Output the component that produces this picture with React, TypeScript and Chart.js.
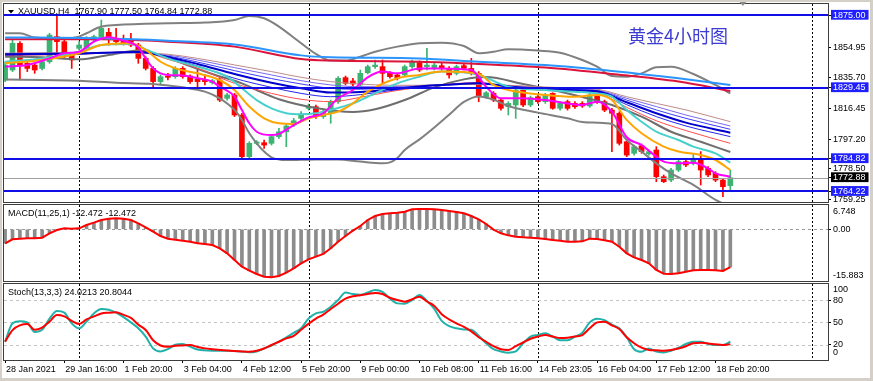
import React, { useEffect, useRef } from "react";
import { Chart, registerables } from "chart.js";

Chart.register(...registerables);

const FONT = "'Liberation Sans', 'DejaVu Sans', sans-serif";
const CJK_FONT = "'Noto Sans CJK SC', sans-serif";

// ---------------- data ----------------
const opens = [1834.3,1840.6,1857.4,1844.8,1843.7,1841.6,1845.8,1861.6,1858.4,1850.0,
1854.2,1854.2,1859.5,1861.2,1864.3,1860.5,1859.5,1859.5,1856.3,1847.9,
1841.6,1833.3,1836.8,1836.4,1841.6,1836.8,1834.9,1834.3,1832.6,1834.3,
1822.8,1824.9,1812.3,1786.1,1794.5,1794.9,1794.5,1798.7,1801.8,1806.0,
1810.2,1816.5,1817.5,1811.3,1813.4,1820.7,1835.8,1833.7,1831.2,1838.9,
1842.7,1842.7,1838.5,1837.5,1837.5,1842.7,1845.2,1842.7,1841.6,1843.3,
1841.6,1838.5,1843.3,1841.6,1838.5,1823.8,1825.9,1821.7,1817.5,1818.6,
1828.0,1818.6,1823.8,1820.7,1825.9,1816.5,1820.7,1819.6,1819.6,1818.0,
1824.9,1820.7,1815.4,1813.4,1795.5,1788.2,1793.0,1787.8,1790.3,1773.5,
1771.4,1777.7,1783.0,1781.9,1784.0,1778.8,1775.6,1771.4,1767.9];
const highs = [1845.8,1859.5,1858.4,1845.8,1844.8,1846.9,1863.7,1875.2,1859.5,1851.1,
1858.4,1861.6,1862.6,1872.0,1866.8,1866.8,1862.6,1863.7,1857.4,1849.0,
1842.7,1837.5,1838.5,1842.7,1842.7,1837.5,1841.6,1837.5,1834.7,1835.4,
1825.9,1825.9,1813.4,1795.5,1796.2,1796.6,1799.7,1803.9,1807.1,1810.2,
1814.4,1819.2,1818.6,1815.9,1821.7,1836.4,1836.8,1835.4,1840.6,1843.7,
1846.9,1846.9,1839.6,1838.5,1843.7,1846.9,1846.3,1854.2,1844.8,1844.8,
1842.7,1843.7,1844.4,1847.9,1839.6,1827.0,1827.0,1822.8,1820.7,1829.1,
1829.1,1824.2,1824.9,1825.9,1826.3,1820.7,1821.7,1820.7,1820.7,1825.9,
1825.9,1821.7,1816.5,1814.4,1796.6,1793.4,1794.1,1790.3,1792.4,1774.6,
1778.8,1784.0,1784.0,1788.2,1789.3,1779.8,1776.7,1772.5,1777.5];
const lows = [1833.3,1839.6,1834.3,1839.6,1838.5,1840.6,1844.8,1851.1,1847.9,1841.6,
1853.2,1853.2,1858.4,1860.5,1856.3,1856.3,1856.3,1855.3,1844.8,1840.6,
1830.1,1831.2,1834.3,1835.4,1835.4,1832.2,1830.1,1831.2,1831.8,1820.7,
1821.7,1811.3,1785.1,1785.1,1793.7,1791.3,1793.4,1797.6,1792.4,1805.0,
1808.7,1815.4,1810.2,1810.2,1807.1,1819.6,1831.2,1830.5,1830.1,1838.1,
1841.6,1832.2,1835.4,1834.3,1836.4,1841.6,1839.6,1840.6,1840.6,1840.6,
1835.4,1837.5,1840.6,1837.5,1820.7,1822.8,1820.7,1815.4,1812.3,1810.2,
1817.5,1817.5,1819.6,1819.6,1815.9,1815.4,1815.4,1816.5,1817.1,1817.1,
1819.6,1814.4,1789.3,1793.4,1786.1,1787.1,1788.2,1787.1,1770.4,1769.8,
1770.4,1776.7,1779.8,1780.9,1768.3,1773.5,1770.4,1761.0,1764.84];
const closes = [1843.7,1857.4,1843.7,1841.6,1840.6,1845.8,1862.6,1858.4,1849.0,1846.9,
1856.3,1860.5,1861.6,1866.8,1860.5,1858.4,1857.4,1856.3,1847.9,1841.6,
1833.3,1836.4,1836.0,1841.6,1836.4,1833.3,1833.3,1833.3,1833.9,1821.7,
1824.9,1812.3,1786.1,1794.5,1795.3,1793.4,1798.7,1801.8,1805.4,1808.7,
1812.9,1817.5,1811.3,1814.4,1820.7,1835.4,1832.2,1831.8,1838.5,1842.7,
1843.7,1838.5,1836.4,1835.4,1842.7,1845.8,1840.6,1843.7,1843.7,1841.6,
1837.5,1842.7,1841.6,1838.5,1823.8,1826.3,1821.7,1816.5,1819.6,1828.0,
1818.6,1823.2,1820.7,1824.9,1816.5,1819.6,1816.5,1817.5,1818.0,1824.9,
1820.7,1815.4,1813.4,1794.5,1787.1,1792.4,1789.3,1789.3,1773.5,1770.4,
1777.7,1783.0,1780.9,1785.1,1777.7,1774.6,1771.4,1767.2,1772.88];

const xTickBars = [0, 8, 16, 24, 32, 40, 48, 56, 64, 72, 80, 88, 96];
const xTickLabels = ["28 Jan 2021","29 Jan 16:00","1 Feb 20:00","3 Feb 04:00","4 Feb 12:00","5 Feb 20:00","9 Feb 00:00","10 Feb 08:00","11 Feb 16:00","14 Feb 23:05","16 Feb 04:00","17 Feb 12:00","18 Feb 20:00"];
const weekLineBars = [10, 41, 72, 109];

const priceTicks = [1759.25, 1778.5, 1797.2, 1816.45, 1835.7, 1854.95];
const levelLines = [1875.0, 1829.45, 1784.82, 1764.22];
const bidPrice = 1772.88;
const headerText = "XAUUSD,H4  1767.90 1777.50 1764.84 1772.88";
const titleText = "黄金4小时图";

const bbUpper = [[0,1863.7],[2,1863.7],[4,1861.1],[8,1860.5],[10,1861.6],[11,1863.7],[13,1867.9],[15,1868.9],[22,1870.0],[27,1870.4],[31,1872.0],[33,1874.6],[35,1873.1],[37,1867.9],[40,1857.4],[42,1850.7],[44,1846.5],[46,1846.5],[48,1849.0],[50,1852.1],[53,1855.3],[56,1857.4],[59,1857.8],[62,1855.7],[64,1851.1],[66,1852.1],[68,1853.6],[72,1852.8],[75,1851.5],[78,1846.9],[80,1842.7],[82,1836.8],[84,1836.4],[86,1838.5],[88,1842.3],[90,1842.7],[93,1838.1],[96,1831.2],[98,1825.9]];
const bbMiddle = [[0,1849.0],[5,1848.6],[10,1847.3],[14,1850.0],[18,1852.8],[21,1850.0],[24,1844.8],[28,1838.1],[32,1832.2],[35,1825.9],[37,1822.2],[42,1816.7],[47,1814.2],[50,1815.9],[54,1821.7],[58,1829.7],[62,1834.7],[65,1836.2],[70,1831.8],[74,1828.0],[78,1823.6],[82,1818.6],[86,1811.3],[90,1801.8],[94,1795.5],[98,1789.0]];
const bbLower = [[0,1834.7],[5,1834.3],[10,1833.9],[15,1832.6],[20,1831.8],[24,1829.7],[27,1827.0],[29,1822.8],[31,1815.5],[32,1809.2],[33,1800.8],[34,1794.5],[35,1789.3],[36,1785.7],[38,1784.0],[42,1784.4],[45,1784.4],[48,1783.0],[51,1781.9],[52,1782.5],[53,1785.3],[54,1790.3],[56,1797.0],[58,1804.5],[60,1812.5],[62,1820.5],[64,1824.0],[66,1822.0],[68,1818.0],[72,1813.8],[76,1810.2],[78,1807.9],[80,1807.5],[82,1806.7],[84,1796.6],[86,1789.3],[88,1781.9],[90,1775.6],[93,1768.3],[96,1758.9],[98,1754.7]];

const slowBlue = [[0,1861.1],[13,1860.5],[22,1859.0],[31,1856.7],[40,1849.8],[44,1848.6],[56,1847.9],[64,1845.8],[73,1843.7],[82,1840.0],[91,1835.4],[98,1831.2]];
const slowRed = [[0,1859.9],[13,1859.9],[22,1858.4],[31,1855.3],[40,1847.5],[44,1846.5],[56,1845.8],[64,1844.4],[73,1842.1],[82,1838.1],[91,1833.3],[98,1827.4]];

const ribbonBars = [0,10,18,22,26,31,36,40,44,48,52,56,60,64,68,72,76,80,84,88,92,98];
const ribbon1 = [1851.1,1851.5,1851.3,1850.5,1847.9,1843.8,1839.6,1836.0,1833.3,1831.8,1831.0,1831.0,1831.4,1831.6,1831.0,1830.1,1829.3,1828.5,1823.8,1819.6,1815.5,1808.1];
const ribbon2 = [1851.1,1851.3,1851.5,1850.0,1846.9,1842.1,1837.5,1833.9,1831.2,1830.1,1830.1,1830.8,1831.4,1831.8,1830.8,1829.7,1828.9,1828.0,1822.8,1817.6,1812.3,1805.4];
const ribbon3 = [1850.7,1851.1,1851.7,1849.4,1845.6,1840.2,1835.2,1831.8,1829.1,1828.5,1829.3,1830.5,1831.4,1832.0,1830.5,1829.3,1828.5,1827.6,1821.7,1815.5,1810.2,1803.3];
const ribbon4 = [1850.5,1850.9,1851.9,1848.8,1844.4,1838.1,1832.6,1829.1,1826.4,1826.8,1828.5,1830.3,1831.4,1832.2,1830.3,1828.9,1828.0,1827.2,1820.3,1813.4,1807.5,1801.2];
const ribbon5 = [1850.0,1850.7,1852.1,1848.2,1843.1,1835.4,1829.7,1825.9,1823.8,1825.1,1827.6,1830.1,1831.6,1832.4,1830.1,1828.5,1827.6,1826.8,1818.8,1811.3,1805.4,1798.7];
const ribbon6 = [1849.8,1850.5,1852.3,1847.3,1841.7,1832.2,1825.9,1822.2,1820.7,1823.4,1827.0,1829.7,1831.8,1832.6,1829.9,1828.0,1827.2,1826.1,1817.1,1808.7,1802.5,1794.5];

const maMagenta = [[0,1842.7],[3,1843.7],[6,1847.9],[8,1851.1],[10,1852.1],[12,1858.4],[14,1861.2],[16,1859.0],[18,1854.9],[19,1847.9],[20,1841.6],[21,1838.5],[22,1837.5],[24,1837.2],[26,1835.4],[28,1833.3],[29,1830.1],[31,1823.8],[32,1815.4],[33,1807.1],[34,1801.8],[36,1799.7],[37,1800.4],[39,1806.0],[41,1810.8],[43,1813.4],[45,1822.8],[47,1828.0],[49,1836.0],[51,1839.6],[53,1838.5],[56,1841.6],[59,1841.6],[63,1840.6],[65,1830.1],[67,1822.8],[70,1822.8],[73,1821.7],[76,1819.6],[78,1818.6],[80,1820.7],[82,1814.4],[84,1798.3],[86,1793.4],[88,1786.1],[89,1783.0],[91,1781.9],[93,1782.3],[95,1778.8],[96,1775.6],[98,1773.5]];
const maOrange = [[0,1844.8],[5,1846.9],[10,1851.1],[13,1856.3],[17,1857.4],[19,1853.2],[21,1845.8],[23,1841.6],[26,1838.5],[29,1834.3],[31,1828.0],[33,1817.6],[35,1810.2],[37,1807.1],[39,1806.7],[41,1810.2],[43,1812.3],[45,1814.4],[47,1819.6],[49,1827.0],[53,1835.4],[56,1837.5],[59,1839.6],[64,1838.1],[66,1831.2],[68,1828.0],[73,1824.9],[77,1823.8],[80,1824.9],[82,1821.7],[84,1809.2],[86,1800.8],[89,1792.4],[91,1789.3],[94,1787.1],[96,1784.0],[98,1777.7]];
const maCyan = [[0,1845.8],[5,1847.9],[10,1852.1],[13,1856.3],[17,1857.0],[19,1853.6],[22,1847.9],[26,1842.7],[30,1836.4],[32,1829.1],[34,1821.7],[36,1816.5],[38,1813.4],[40,1812.7],[42,1813.4],[44,1815.5],[47,1819.6],[49,1823.8],[53,1832.2],[56,1836.4],[59,1839.6],[64,1837.5],[68,1830.1],[73,1828.0],[77,1827.0],[80,1825.9],[82,1823.8],[84,1815.5],[86,1808.1],[88,1801.8],[91,1796.6],[93,1792.4],[96,1788.2],[98,1782.4]];

const macdValues = [-4.63,-3.31,-3.09,-2.98,-2.98,-2.76,-1.32,-0.22,0.33,0.22,
0.33,1.43,2.21,3.09,3.53,3.64,3.53,3.09,1.99,0.66,
-0.77,-2.21,-3.09,-3.42,-3.75,-4.08,-4.63,-4.85,-5.18,-6.29,
-7.94,-10.15,-12.35,-13.68,-14.78,-15.66,-15.88,-15.44,-14.34,-12.91,
-11.25,-9.93,-9.04,-8.16,-6.29,-4.08,-2.21,-0.44,1.10,3.09,
4.41,5.07,5.29,5.52,5.85,6.62,6.73,6.75,6.62,6.40,
6.07,5.74,5.29,4.41,3.31,1.76,-0.10,-1.32,-1.99,-2.43,
-2.65,-2.76,-2.98,-3.20,-3.53,-3.75,-4.08,-4.08,-3.97,-3.09,
-3.20,-3.64,-4.08,-5.74,-7.94,-9.27,-10.15,-11.25,-13.46,-14.67,
-14.78,-14.56,-14.01,-13.57,-13.46,-13.46,-13.57,-13.79,-12.47];
const macdLabel = "MACD(11,25,1) -12.472 -12.472";
const macdTop = "6.748";
const macdBottom = "-15.883";

const stochK = [[0,24.1],[1,48.7],[2,51.5],[3,50],[4,37],[5,40],[6,55],[7,65.2],[8,63],[9,48.7],[10,42],[11,51],[12,62],[13,68],[14,67],[15,63],[16,57],[17,50],[18,42],[19,30.8],[20,15.1],[21,11],[22,14],[23,20],[24,21],[25,17.4],[26,13.5],[28,12],[30,12],[32,11],[33,9.8],[34,11],[35,15.1],[36,19],[37,24],[38,30],[39,36],[40,42],[41,55],[42,62],[43,64.3],[44,71],[45,80],[46,90],[47,88],[48,87],[49,90],[50,93.4],[51,91],[52,82],[53,75.5],[54,75],[55,80],[56,86.7],[57,79],[58,68],[59,52],[60,45],[61,42],[62,40.6],[63,40],[64,32],[65,22],[66,14],[67,11],[68,9.3],[69,11],[70,22],[71,31],[72,33],[73,35.3],[74,31],[75,26],[76,26],[77,30.8],[78,36],[79,50],[80,55],[81,53],[82,47],[83,42],[84,30],[85,14],[86,10.6],[87,15],[88,11],[89,9.5],[90,12],[91,16],[92,21],[93,24],[94,24],[95,21],[96,19.6],[97,19.6],[98,24.02]];
const stochD = [[0,24.1],[1,39.7],[2,46],[3,47.8],[4,40],[5,43],[6,51],[7,59.9],[8,58],[9,52],[10,47.8],[11,54],[12,58],[13,62],[14,63],[15,63.5],[16,60],[17,56],[18,47],[19,39.7],[20,26],[21,19],[22,17.4],[23,18.5],[24,19],[25,19.6],[26,17],[27,15.1],[28,14],[30,12.2],[32,11],[33,10.6],[34,12],[35,15],[36,19.6],[37,24],[38,28.5],[39,32],[40,40],[41,48],[42,55],[43,60.5],[44,68],[45,75],[46,82],[47,85],[48,86.5],[49,88],[50,89.5],[51,88],[52,83],[53,80],[54,77.8],[55,81],[56,84.5],[57,78],[58,72],[59,61],[60,54],[61,48.7],[62,44],[63,38],[64,30],[65,24],[66,18],[67,14],[68,13],[69,18],[70,23],[71,28],[72,31],[73,33],[74,31],[75,29],[76,29.5],[77,31],[78,33],[79,42],[80,50],[81,51],[82,46],[83,41],[84,30],[85,22],[86,16],[87,13],[88,12.5],[89,12],[90,13],[91,15],[92,18],[93,22],[94,22.5],[95,21.8],[96,20.5],[97,19.6],[98,20.8]];
const stochLevels = [80, 50, 20];
const stochLabel = "Stoch(13,3,3) 24.0213 20.8044";

// ---------------- styling helpers ----------------
const X_MIN = -0.15;
const X_MAX = 111.2;
const UP = "#3cb371";
const DOWN = "#ff0000";
const LEVEL = "#1010e6";
const LEVEL_BOX = "#1f1fff";
const FRAME = "#3c3c3c";
const candleColors = opens.map((o, i) => (closes[i] >= o ? UP : DOWN));

function pts(arr: number[][]) {
  return arr.map(([x, y]) => ({ x, y }));
}
function ribbonPts(vals: number[]) {
  return vals.map((v, i) => ({ x: ribbonBars[i], y: v }));
}
function lineDs(data: any[], color: string, width: number, order: number, extra: any = {}) {
  return {
    type: "line",
    data,
    borderColor: color,
    backgroundColor: color,
    borderWidth: width,
    pointRadius: 0,
    pointHoverRadius: 0,
    fill: false,
    cubicInterpolationMode: "monotone",
    order,
    ...extra,
  };
}

function zeroPadding(s: any) {
  s.paddingTop = 0;
  s.paddingBottom = 0;
  s.paddingLeft = 0;
  s.paddingRight = 0;
}

function xScaleOpts(display: boolean) {
  return {
    type: "linear",
    min: X_MIN,
    max: X_MAX,
    offset: false,
    display,
    afterBuildTicks: (s: any) => {
      s.ticks = xTickBars.map((v) => ({ value: v }));
    },
    afterFit: (s: any) => {
      if (display) s.height = 20;
      zeroPadding(s);
    },
    grid: { drawOnChartArea: false, drawTicks: true, tickLength: 3, color: "#000", lineWidth: 1 },
    border: { display: false },
    ticks: {
      autoSkip: false,
      maxRotation: 0,
      minRotation: 0,
      align: "start",
      labelOffset: 1,
      padding: 1,
      color: "#000",
      font: { family: FONT, size: 9 },
      callback: (_v: any, i: number) => xTickLabels[i] ?? "",
    },
  };
}

function yScaleOpts(min: number, max: number, tickVals: number[], fmt: (v: number) => string, extraTicks: any = {}) {
  return {
    type: "linear",
    position: "right",
    min,
    max,
    beginAtZero: false,
    afterFit: (s: any) => {
      s.width = 45;
      zeroPadding(s);
    },
    afterBuildTicks: (s: any) => {
      s.ticks = tickVals.map((v) => ({ value: v }));
    },
    grid: { drawOnChartArea: false, drawTicks: true, tickLength: 3, color: "#000", lineWidth: 1 },
    border: { display: false },
    ticks: {
      autoSkip: false,
      padding: 2,
      color: "#000",
      font: { family: FONT, size: 9 },
      callback: (v: any) => fmt(Number(v)),
      ...extraTicks,
    },
  };
}

function drawWeekLines(chart: any) {
  const { ctx, chartArea: a, scales } = chart;
  ctx.save();
  ctx.strokeStyle = "#000";
  ctx.lineWidth = 1;
  ctx.setLineDash([2, 2]);
  weekLineBars.forEach((b) => {
    const x = Math.round(scales.x.getPixelForValue(b)) + 0.5;
    ctx.beginPath();
    ctx.moveTo(x, a.top);
    ctx.lineTo(x, a.bottom);
    ctx.stroke();
  });
  ctx.restore();
}

function drawHDashed(chart: any, values: number[], color: string) {
  const { ctx, chartArea: a, scales } = chart;
  ctx.save();
  ctx.strokeStyle = color;
  ctx.lineWidth = 1;
  ctx.setLineDash([3, 3]);
  values.forEach((v) => {
    const y = Math.round(scales.y.getPixelForValue(v)) + 0.5;
    ctx.beginPath();
    ctx.moveTo(a.left, y);
    ctx.lineTo(a.right, y);
    ctx.stroke();
  });
  ctx.restore();
}

function drawFrame(chart: any) {
  const { ctx, chartArea: a } = chart;
  const l = Math.round(a.left), t = Math.round(a.top), r = Math.round(a.right), b = Math.round(a.bottom);
  ctx.save();
  ctx.strokeStyle = FRAME;
  ctx.lineWidth = 1;
  ctx.setLineDash([]);
  ctx.strokeRect(l - 0.5, t - 0.5, r - l + 1, b - t + 1);
  ctx.restore();
}

function drawText(ctx: any, text: string, x: number, y: number, color = "#000", font = `9px ${FONT}`) {
  ctx.save();
  ctx.fillStyle = color;
  ctx.font = font;
  ctx.textBaseline = "middle";
  ctx.textAlign = "left";
  ctx.fillText(text, x, y);
  ctx.restore();
}

const mainDecor = {
  id: "mainDecor",
  beforeDatasetsDraw(chart: any) {
    drawWeekLines(chart);
  },
  afterDatasetsDraw(chart: any) {
    const { ctx, chartArea: a, scales } = chart;
    ctx.save();
    const by = Math.round(scales.y.getPixelForValue(bidPrice)) + 0.5;
    ctx.strokeStyle = "#a0a0a0";
    ctx.lineWidth = 1;
    ctx.beginPath();
    ctx.moveTo(a.left, by);
    ctx.lineTo(a.right, by);
    ctx.stroke();
    ctx.strokeStyle = LEVEL;
    ctx.lineWidth = 2;
    levelLines.forEach((v) => {
      const y = Math.round(scales.y.getPixelForValue(v));
      ctx.beginPath();
      ctx.moveTo(a.left, y);
      ctx.lineTo(a.right, y);
      ctx.stroke();
    });
    ctx.restore();
  },
  afterDraw(chart: any) {
    const { ctx, chartArea: a, scales } = chart;
    drawFrame(chart);
    ctx.save();
    ctx.fillStyle = "#000";
    ctx.beginPath();
    ctx.moveTo(a.left + 4, a.top + 6);
    ctx.lineTo(a.left + 10, a.top + 6);
    ctx.lineTo(a.left + 7, a.top + 9.5);
    ctx.closePath();
    ctx.fill();
    ctx.restore();
    drawText(ctx, headerText, a.left + 14, a.top + 7.5);
    drawText(ctx, titleText, a.left + 624, a.top + 32, "#3c3cd2", `18px ${CJK_FONT}`);
    const sx = scales.x.getPixelForValue(opens.length + 0.7);
    ctx.save();
    ctx.fillStyle = "#8c8c8c";
    ctx.beginPath();
    ctx.moveTo(sx - 4, 1);
    ctx.lineTo(sx + 4, 1);
    ctx.lineTo(sx, 6);
    ctx.closePath();
    ctx.fill();
    ctx.restore();
  },
};

const macdDecor = {
  id: "macdDecor",
  beforeDatasetsDraw(chart: any) {
    drawWeekLines(chart);
    drawHDashed(chart, [0], "#9a9a9a");
  },
  afterDraw(chart: any) {
    const { ctx, chartArea: a } = chart;
    drawFrame(chart);
    drawText(ctx, macdLabel, a.left + 4, a.top + 8.5);
    drawText(ctx, macdTop, a.right + 5, a.top + 7);
    drawText(ctx, macdBottom, a.right + 5, a.bottom - 5);
  },
};

const stochDecor = {
  id: "stochDecor",
  beforeDatasetsDraw(chart: any) {
    drawWeekLines(chart);
    drawHDashed(chart, stochLevels, "#c4c4c4");
  },
  afterDraw(chart: any) {
    const { ctx, chartArea: a } = chart;
    drawFrame(chart);
    drawText(ctx, stochLabel, a.left + 4, a.top + 9);
    drawText(ctx, "100", a.right + 5, a.top + 5.5);
    drawText(ctx, "0", a.right + 5, a.bottom - 7);
  },
};

const baseOptions = (padding: any) => ({
  animation: false,
  responsive: false,
  events: [],
  layout: { padding },
  plugins: { legend: { display: false }, tooltip: { enabled: false } },
});

export default function App() {
  const mainRef = useRef<HTMLCanvasElement | null>(null);
  const macdRef = useRef<HTMLCanvasElement | null>(null);
  const stochRef = useRef<HTMLCanvasElement | null>(null);

  useEffect(() => {
    document.body.style.margin = "0";
    Chart.defaults.font.family = FONT;
    Chart.defaults.color = "#000";

    const mainTicks = [...priceTicks, ...levelLines, bidPrice];
    const isLevel = (v: number) => levelLines.some((l) => Math.abs(l - v) < 1e-6);
    const isBid = (v: number) => Math.abs(v - bidPrice) < 1e-6;

    const main = new Chart(mainRef.current as any, {
      type: "bar",
      data: {
        datasets: [
          lineDs(pts(bbUpper), "#808080", 2, 9),
          lineDs(pts(bbLower), "#808080", 2, 9),
          lineDs(pts(bbMiddle), "#6e6e6e", 2, 9),
          lineDs(pts(slowBlue), "#2b95ff", 2, 8),
          lineDs(pts(slowRed), "#dc143c", 2, 8),
          lineDs(ribbonPts(ribbon1), "#c08a8a", 1, 7),
          lineDs(ribbonPts(ribbon2), "#7b68ee", 1, 7),
          lineDs(ribbonPts(ribbon3), "#3c3cff", 1, 7),
          lineDs(ribbonPts(ribbon4), "#0000cd", 2, 6),
          lineDs(ribbonPts(ribbon5), "#2424f0", 1, 6),
          lineDs(ribbonPts(ribbon6), "#ff4d4d", 1, 6),
          lineDs(pts(maCyan), "#48d1cc", 2, 5),
          lineDs(pts(maOrange), "#ffa500", 2, 4),
          lineDs(pts(maMagenta), "#ff00ff", 2, 3),
          {
            type: "bar",
            data: opens.map((_o, i) => ({ x: i, y: [lows[i], highs[i]] })),
            backgroundColor: candleColors,
            barThickness: 1,
            grouped: false,
            borderWidth: 0,
            order: 21,
          },
          {
            type: "bar",
            data: opens.map((o, i) => ({ x: i, y: [o, closes[i]] })),
            backgroundColor: candleColors,
            barThickness: 5,
            minBarLength: 1,
            grouped: false,
            borderWidth: 0,
            order: 20,
          },
        ],
      },
      options: {
        ...baseOptions({ left: 4, right: 0, top: 4, bottom: 2 }),
        scales: {
          x: xScaleOpts(false),
          y: yScaleOpts(1757.6, 1882.1, mainTicks, (v) => v.toFixed(2), {
            color: (c: any) => (c.tick && (isLevel(c.tick.value) || isBid(c.tick.value)) ? "#fff" : "#000"),
            showLabelBackdrop: (c: any) => !!(c.tick && (isLevel(c.tick.value) || isBid(c.tick.value))),
            backdropColor: (c: any) => (c.tick && isBid(c.tick.value) ? "#000" : LEVEL_BOX),
            backdropPadding: { left: 2, right: 3, top: 0, bottom: -1 },
          }),
        },
      } as any,
      plugins: [mainDecor],
    } as any);

    const macd = new Chart(macdRef.current as any, {
      type: "bar",
      data: {
        datasets: [
          {
            type: "bar",
            data: macdValues.map((v, i) => ({ x: i, y: v })),
            backgroundColor: "#8c8c8c",
            barThickness: 3,
            grouped: false,
            borderWidth: 0,
            order: 2,
          },
          lineDs(macdValues.map((v, i) => ({ x: i, y: v })), "#ff0000", 2, 1, { cubicInterpolationMode: "default", tension: 0 }),
        ],
      },
      options: {
        ...baseOptions({ left: 4, right: 0, top: 2, bottom: 2 }),
        scales: {
          x: xScaleOpts(false),
          y: yScaleOpts(-17.1, 8.05, [0], (v) => v.toFixed(2)),
        },
      } as any,
      plugins: [macdDecor],
    } as any);

    const stoch = new Chart(stochRef.current as any, {
      type: "line",
      data: {
        datasets: [
          lineDs(pts(stochK), "#20b2aa", 2, 2),
          lineDs(pts(stochD), "#ff0000", 2, 1),
        ],
      },
      options: {
        ...baseOptions({ left: 4, right: 0, top: 1, bottom: 1 }),
        scales: {
          x: xScaleOpts(true),
          y: yScaleOpts(-0.5, 101.5, stochLevels, (v) => String(v)),
        },
      } as any,
      plugins: [stochDecor],
    } as any);

    return () => {
      main.destroy();
      macd.destroy();
      stoch.destroy();
    };
  }, []);

  return (
    <div style={{ position: "relative", width: 873, height: 381, background: "#ffffff", overflow: "hidden" }}>
      <canvas ref={mainRef} width={873} height={204} style={{ position: "absolute", left: 0, top: 0, width: 873, height: 204 }} />
      <canvas ref={macdRef} width={873} height={80} style={{ position: "absolute", left: 0, top: 203, width: 873, height: 80 }} />
      <canvas ref={stochRef} width={873} height={98} style={{ position: "absolute", left: 0, top: 283, width: 873, height: 98 }} />
      <div
        style={{
          position: "absolute",
          left: 0,
          top: 0,
          width: 873,
          height: 381,
          boxSizing: "border-box",
          borderTop: "2px solid #d4d0c8",
          borderLeft: "2px solid #d4d0c8",
          borderRight: "3px solid #d4d0c8",
          borderBottom: "3px solid #d4d0c8",
          pointerEvents: "none",
        }}
      />
    </div>
  );
}
